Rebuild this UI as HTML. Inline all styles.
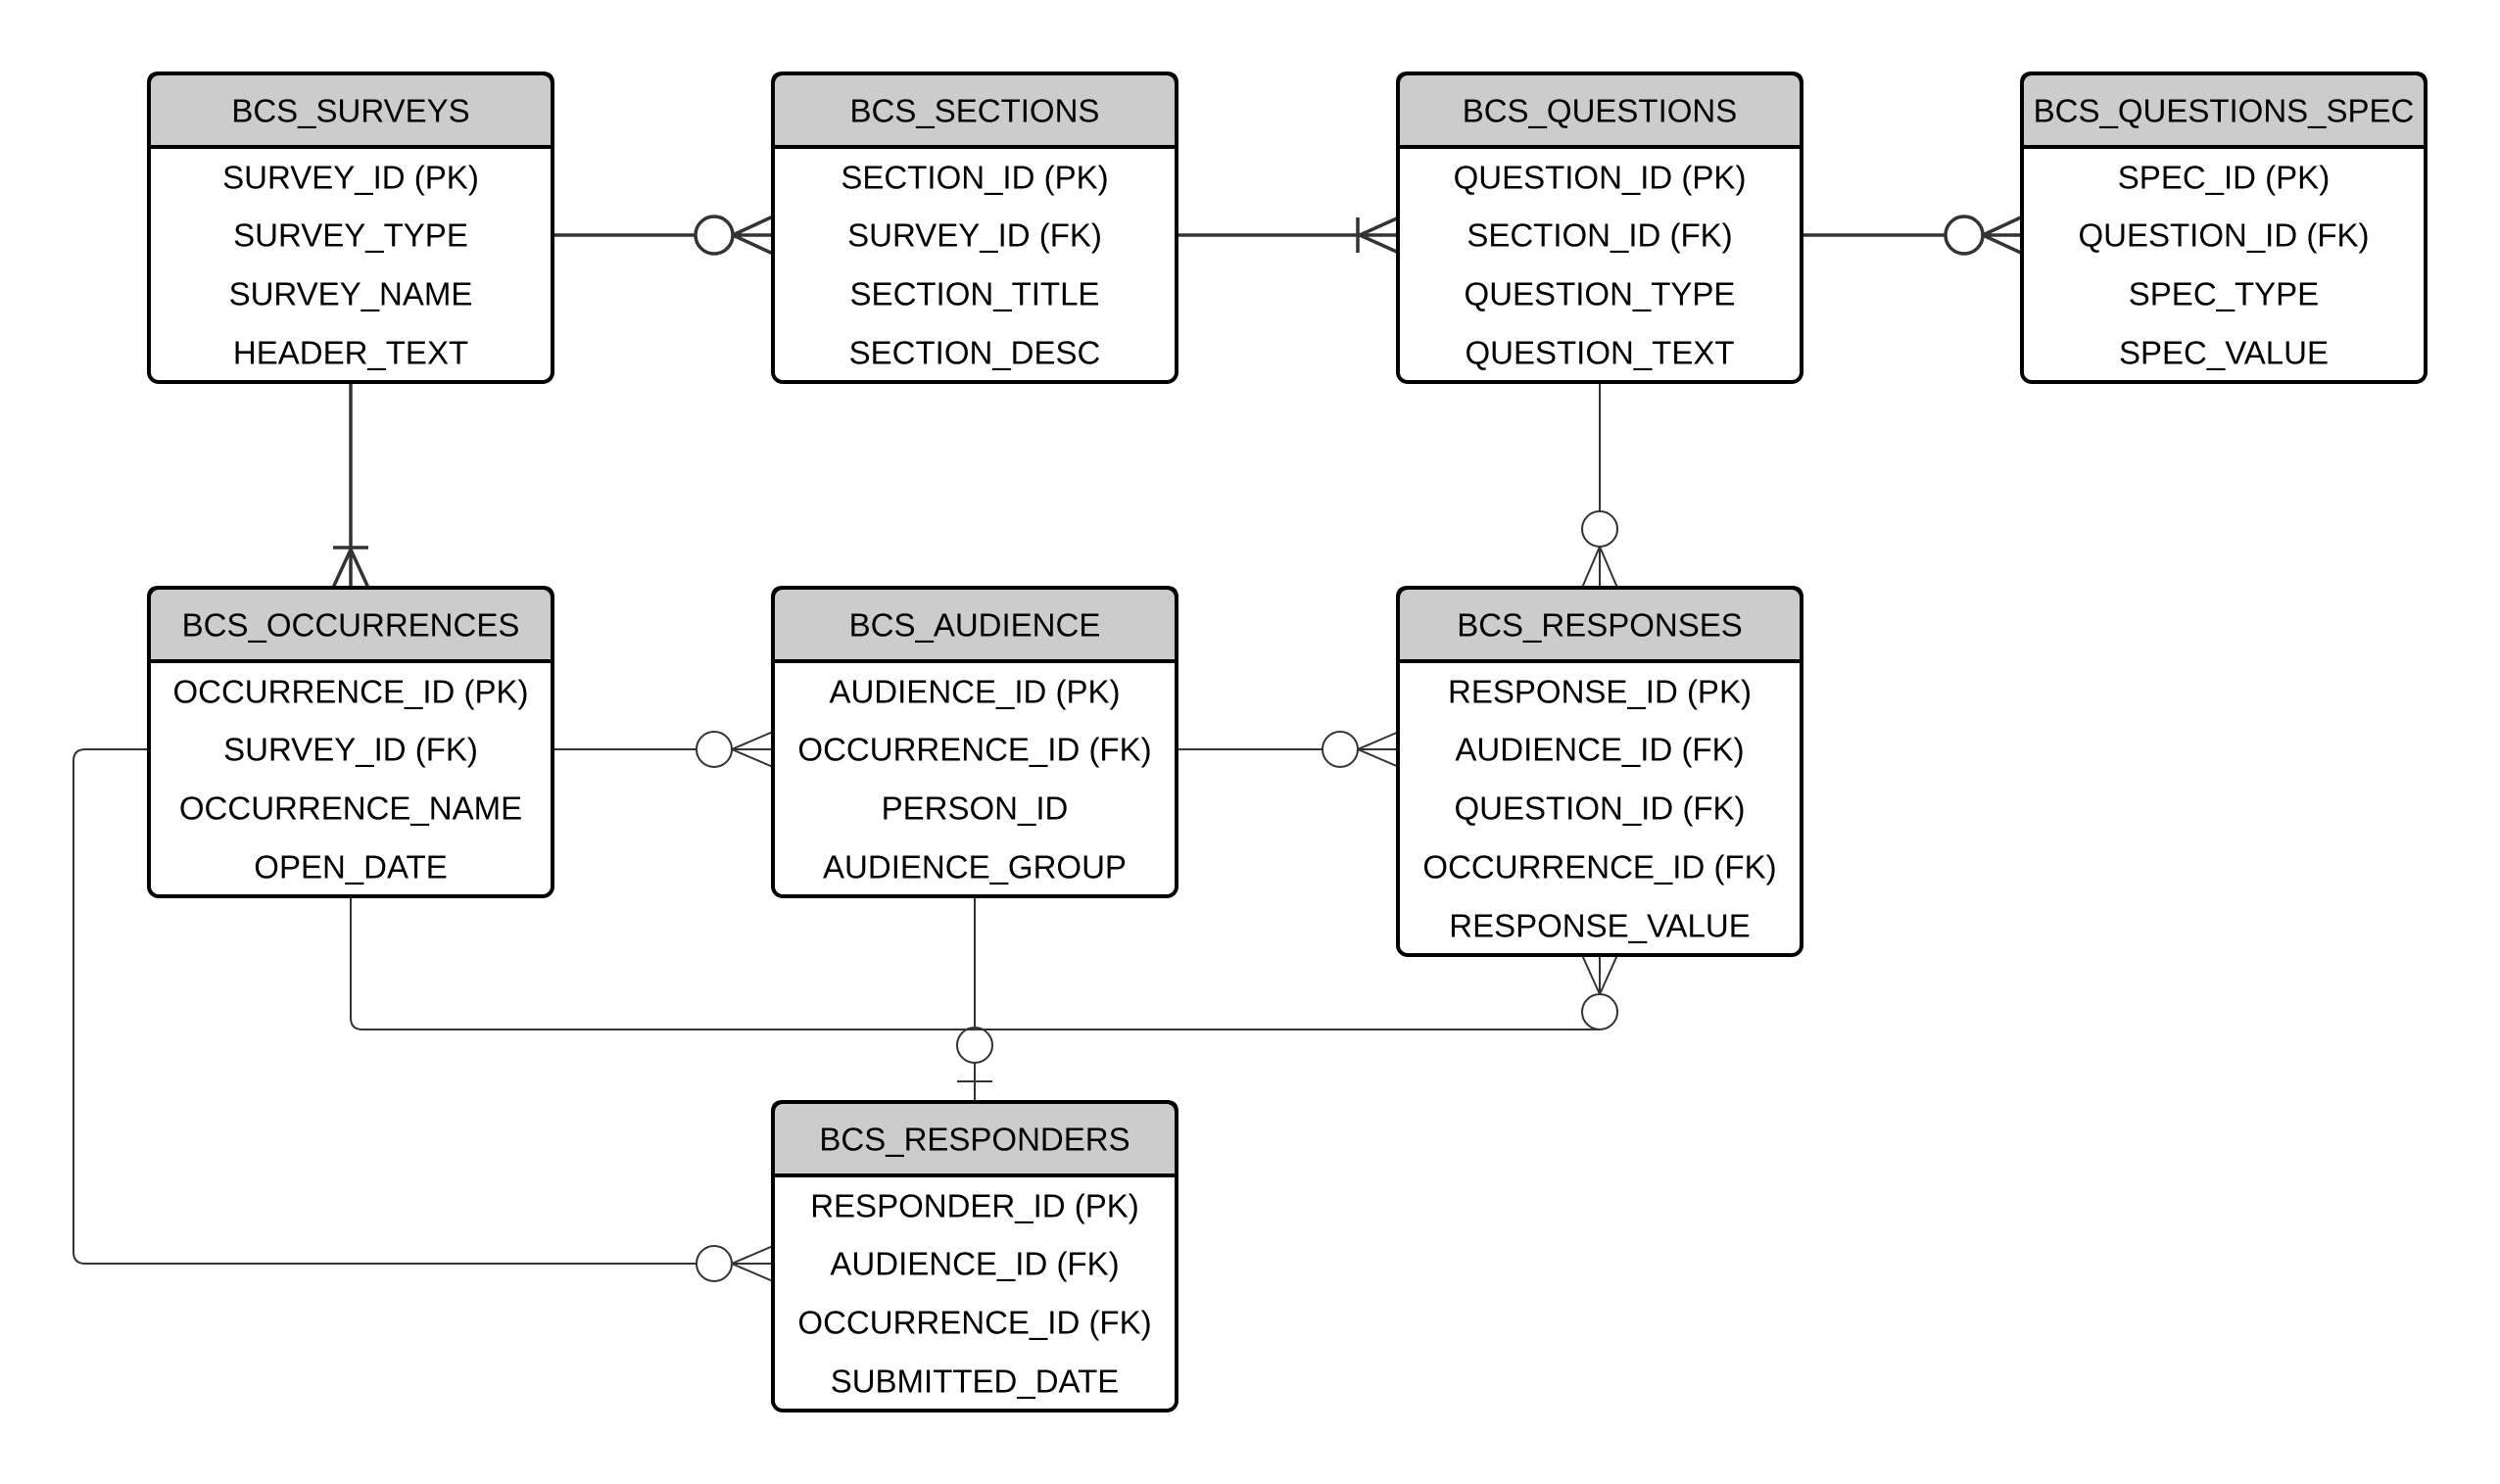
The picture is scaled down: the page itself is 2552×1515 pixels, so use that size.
<!DOCTYPE html>
<html><head><meta charset="utf-8"><style>
html,body{margin:0;padding:0;background:#fff;}
svg{display:block;}
text{font-family:"Liberation Sans",sans-serif;font-size:33px;fill:#000;text-anchor:middle;dominant-baseline:central;}
</style></head><body>
<svg width="2552" height="1515" viewBox="0 0 2552 1515" xmlns="http://www.w3.org/2000/svg">
<g fill="none" stroke="#333">
<g stroke-width="3.5">
<line x1="564" y1="240" x2="710" y2="240"/><circle cx="729" cy="240" r="19"/>
<path d="M748 240 L789 221 M748 240 L789 240 M748 240 L789 259"/>
<line x1="1201" y1="240" x2="1428" y2="240"/>
<line x1="1386" y1="222" x2="1386" y2="258"/>
<path d="M1388 240 L1428 222 M1388 240 L1428 258"/>
<line x1="1839" y1="240" x2="1986" y2="240"/><circle cx="2005" cy="240" r="19"/>
<path d="M2024 240 L2065 221 M2024 240 L2065 240 M2024 240 L2065 259"/>
<line x1="358" y1="391" x2="358" y2="600"/>
<line x1="340" y1="559" x2="376" y2="559"/>
<path d="M358 561 L340 600 M358 561 L376 600"/>
</g>
<g stroke-width="2">
<line x1="564" y1="765" x2="711" y2="765"/><circle cx="729" cy="765" r="18"/>
<path d="M747 765 L789 747 M747 765 L789 765 M747 765 L789 783"/>
<line x1="1201" y1="765" x2="1350" y2="765"/><circle cx="1368" cy="765" r="18"/>
<path d="M1386 765 L1428 747 M1386 765 L1428 765 M1386 765 L1428 783"/>
<line x1="1633" y1="391" x2="1633" y2="522"/><circle cx="1633" cy="540" r="18"/>
<path d="M1633 558 L1615 600 M1633 558 L1633 600 M1633 558 L1651 600"/>
<path d="M1615 975 L1633 1015 M1651 975 L1633 1015 M1633 975 L1633 1015"/><circle cx="1633" cy="1033" r="18"/>
<path d="M1633 1051 L370 1051 Q358 1051 358 1039 L358 915"/>
<line x1="995" y1="915" x2="995" y2="1049"/><circle cx="995" cy="1067" r="18"/>
<line x1="995" y1="1085" x2="995" y2="1125"/>
<line x1="977" y1="1104" x2="1013" y2="1104"/>
<path d="M152 765 L87 765 Q75 765 75 777 L75 1278 Q75 1290 87 1290 L711 1290"/>
<circle cx="729" cy="1290" r="18"/>
<path d="M747 1290 L789 1272 M747 1290 L789 1290 M747 1290 L789 1308"/>
</g>
</g>
<g stroke="#000" stroke-width="4">
<g transform="translate(152,75)">
<path d="M0 75 V10 Q0 0 10 0 H402 Q412 0 412 10 V75 Z" fill="#ccc"/>
<rect x="0" y="0" width="412" height="315" rx="10" fill="none"/>
<line x1="0" y1="75" x2="412" y2="75"/></g>
<g transform="translate(789,75)">
<path d="M0 75 V10 Q0 0 10 0 H402 Q412 0 412 10 V75 Z" fill="#ccc"/>
<rect x="0" y="0" width="412" height="315" rx="10" fill="none"/>
<line x1="0" y1="75" x2="412" y2="75"/></g>
<g transform="translate(1427,75)">
<path d="M0 75 V10 Q0 0 10 0 H402 Q412 0 412 10 V75 Z" fill="#ccc"/>
<rect x="0" y="0" width="412" height="315" rx="10" fill="none"/>
<line x1="0" y1="75" x2="412" y2="75"/></g>
<g transform="translate(2064,75)">
<path d="M0 75 V10 Q0 0 10 0 H402 Q412 0 412 10 V75 Z" fill="#ccc"/>
<rect x="0" y="0" width="412" height="315" rx="10" fill="none"/>
<line x1="0" y1="75" x2="412" y2="75"/></g>
<g transform="translate(152,600)">
<path d="M0 75 V10 Q0 0 10 0 H402 Q412 0 412 10 V75 Z" fill="#ccc"/>
<rect x="0" y="0" width="412" height="315" rx="10" fill="none"/>
<line x1="0" y1="75" x2="412" y2="75"/></g>
<g transform="translate(789,600)">
<path d="M0 75 V10 Q0 0 10 0 H402 Q412 0 412 10 V75 Z" fill="#ccc"/>
<rect x="0" y="0" width="412" height="315" rx="10" fill="none"/>
<line x1="0" y1="75" x2="412" y2="75"/></g>
<g transform="translate(1427,600)">
<path d="M0 75 V10 Q0 0 10 0 H402 Q412 0 412 10 V75 Z" fill="#ccc"/>
<rect x="0" y="0" width="412" height="375" rx="10" fill="none"/>
<line x1="0" y1="75" x2="412" y2="75"/></g>
<g transform="translate(789,1125)">
<path d="M0 75 V10 Q0 0 10 0 H402 Q412 0 412 10 V75 Z" fill="#ccc"/>
<rect x="0" y="0" width="412" height="315" rx="10" fill="none"/>
<line x1="0" y1="75" x2="412" y2="75"/></g>
</g>
<text x="358" y="113">BCS_SURVEYS</text>
<text x="358" y="181">SURVEY_ID (PK)</text><text x="358" y="240">SURVEY_TYPE</text><text x="358" y="300">SURVEY_NAME</text><text x="358" y="360">HEADER_TEXT</text>
<text x="995" y="113">BCS_SECTIONS</text>
<text x="995" y="181">SECTION_ID (PK)</text><text x="995" y="240">SURVEY_ID (FK)</text><text x="995" y="300">SECTION_TITLE</text><text x="995" y="360">SECTION_DESC</text>
<text x="1633" y="113">BCS_QUESTIONS</text>
<text x="1633" y="181">QUESTION_ID (PK)</text><text x="1633" y="240">SECTION_ID (FK)</text><text x="1633" y="300">QUESTION_TYPE</text><text x="1633" y="360">QUESTION_TEXT</text>
<text x="2270" y="113">BCS_QUESTIONS_SPEC</text>
<text x="2270" y="181">SPEC_ID (PK)</text><text x="2270" y="240">QUESTION_ID (FK)</text><text x="2270" y="300">SPEC_TYPE</text><text x="2270" y="360">SPEC_VALUE</text>
<text x="358" y="638">BCS_OCCURRENCES</text>
<text x="358" y="706">OCCURRENCE_ID (PK)</text><text x="358" y="765">SURVEY_ID (FK)</text><text x="358" y="825">OCCURRENCE_NAME</text><text x="358" y="885">OPEN_DATE</text>
<text x="995" y="638">BCS_AUDIENCE</text>
<text x="995" y="706">AUDIENCE_ID (PK)</text><text x="995" y="765">OCCURRENCE_ID (FK)</text><text x="995" y="825">PERSON_ID</text><text x="995" y="885">AUDIENCE_GROUP</text>
<text x="1633" y="638">BCS_RESPONSES</text>
<text x="1633" y="706">RESPONSE_ID (PK)</text><text x="1633" y="765">AUDIENCE_ID (FK)</text><text x="1633" y="825">QUESTION_ID (FK)</text><text x="1633" y="885">OCCURRENCE_ID (FK)</text><text x="1633" y="945">RESPONSE_VALUE</text>
<text x="995" y="1163">BCS_RESPONDERS</text>
<text x="995" y="1231">RESPONDER_ID (PK)</text><text x="995" y="1290">AUDIENCE_ID (FK)</text><text x="995" y="1350">OCCURRENCE_ID (FK)</text><text x="995" y="1410">SUBMITTED_DATE</text>
</svg>
</body></html>
